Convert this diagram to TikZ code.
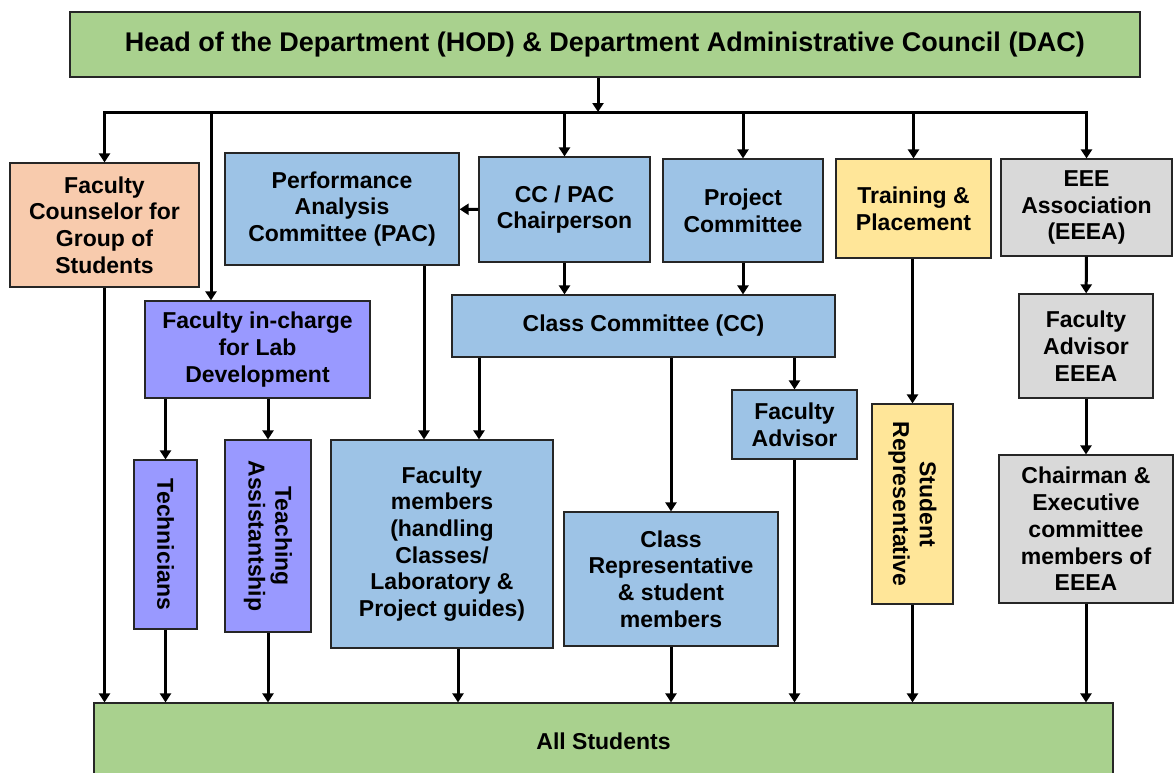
\documentclass[tikz,border=0pt]{standalone}
\usepackage{fontspec}
\setmainfont{Liberation Sans}
\usetikzlibrary{arrows.meta}
\definecolor{hodgreen}{HTML}{A9D18E}
\definecolor{peach}{HTML}{F8CBAD}
\definecolor{ccblue}{HTML}{9DC3E6}
\definecolor{lavender}{HTML}{9999FF}
\definecolor{tpyellow}{HTML}{FFE699}
\definecolor{assocgrey}{HTML}{D9D9D9}
\begin{document}
\begin{tikzpicture}[x=1pt,y=-1pt,
  every node/.style={font=\fontsize{23}{26.7}\selectfont\bfseries,align=center,inner sep=2pt}
]

\tikzstyle{box}=[draw=black!85,line width=1.2pt,rectangle]
\tikzstyle{arr}=[line width=3pt,-{Triangle[length=9pt,width=11pt]}]
\tikzstyle{link}=[line width=3pt]

\useasboundingbox (0,0) rectangle (1174,772);

\node [box,fill=hodgreen,minimum width=1070,minimum height=65,
  font=\fontsize{27}{31}\selectfont\bfseries] (hod) at (605,44.5)
  {Head of the Department (HOD) \& Department Administrative Council (DAC)};

\node [box,fill=peach,minimum width=189,minimum height=124] (fcs) at (104.5,225)
  {Faculty\\Counselor for\\Group of\\Students};
\node [box,fill=ccblue,minimum width=234,minimum height=112] (pac) at (342,209)
  {Performance\\Analysis\\Committee (PAC)};
\node [box,fill=ccblue,minimum width=171,minimum height=105] (chair) at (564.5,209.5)
  {CC / PAC\\Chairperson};
\node [box,fill=ccblue,minimum width=160,minimum height=103] (proj) at (743,210.5)
  {Project\\Committee};
\node [box,fill=tpyellow,minimum width=155,minimum height=99] (tp) at (913.5,208.5)
  {Training \&\\Placement};
\node [box,fill=assocgrey,minimum width=171,minimum height=97] (eeea) at (1086.5,207.5)
  {EEE\\Association\\(EEEA)};

\node [box,fill=ccblue,minimum width=383,minimum height=62] (cc) at (643.5,326)
  {Class Committee (CC)};
\node [box,fill=lavender,minimum width=225,minimum height=97] (lab) at (257.5,349.5)
  {Faculty in-charge\\for Lab\\Development};
\node [box,fill=assocgrey,minimum width=134,minimum height=104] (faeeea) at (1086,346)
  {Faculty\\Advisor\\EEEA};
\node [box,fill=ccblue,minimum width=125,minimum height=69] (fa) at (794.5,424.5)
  {Faculty\\Advisor};

\node [box,fill=lavender,rotate=-90,minimum width=169,minimum height=63] (tech) at (165.5,544.5)
  {Technicians};
\node [box,fill=lavender,rotate=-90,minimum width=192,minimum height=86] (ta) at (268,536)
  {Teaching\\Assistantship};
\node [box,fill=ccblue,minimum width=222,minimum height=208] (fm) at (442,544)
  {Faculty\\members\\(handling\\Classes/\\Laboratory \&\\Project guides)};
\node [box,fill=ccblue,minimum width=214,minimum height=134] (crep) at (671,579)
  {Class\\Representative\\\& student\\members};
\node [box,fill=tpyellow,rotate=-90,minimum width=200,minimum height=81] (srep) at (912.5,504)
  {Student\\Representative};
\node [box,fill=assocgrey,minimum width=174,minimum height=148] (chm) at (1086,529)
  {Chairman \&\\Executive\\committee\\members of\\EEEA};

\node [box,fill=hodgreen,minimum width=1019,minimum height=77] (all) at (603.5,741.5)
  {All Students};

% distribution line under the HOD
\coordinate (bus) at (598,112);
\coordinate (labtap) at (211,112);
\draw[arr] (hod.south -| bus) -- (bus);
\draw[link,line cap=rect] (fcs |- bus) -- (eeea |- bus);
\draw[arr] (fcs |- bus) -- (fcs);
\draw[arr] (labtap) -- (labtap |- lab.north);
\draw[arr] (chair |- bus) -- (chair);
\draw[arr] (proj |- bus) -- (proj);
\draw[arr] (tp |- bus) -- (tp);
\draw[arr] (eeea |- bus) -- (eeea);

% committees
\draw[arr] (chair) -- (pac);
\draw[arr] (chair) -- (chair |- cc.north);
\draw[arr] (proj) -- (proj |- cc.north);
\draw[arr] ([xshift=82]pac.south) -- ([xshift=82]pac.south |- fm.north);
\draw[arr] ([xshift=-164.5]cc.south) -- ([xshift=-164.5]cc.south |- fm.north);
\draw[arr] (crep |- cc.south) -- (crep);
\draw[arr] (fa |- cc.south) -- (fa);
\draw[arr] (lab.south -| tech) -- (tech);
\draw[arr] (lab.south -| ta) -- (ta);
\draw[arr] (tp.south -| srep) -- (srep);
\draw[arr] (eeea) -- (faeeea);
\draw[arr] (faeeea) -- (chm);

% down to the students
\foreach \n in {fcs,tech,ta,crep,fa,srep,chm}
  \draw[arr] (\n) -- (\n |- all.north);
\draw[arr] ([xshift=16]fm.south) -- ([xshift=16]fm.south |- all.north);
\end{tikzpicture}
\end{document}
